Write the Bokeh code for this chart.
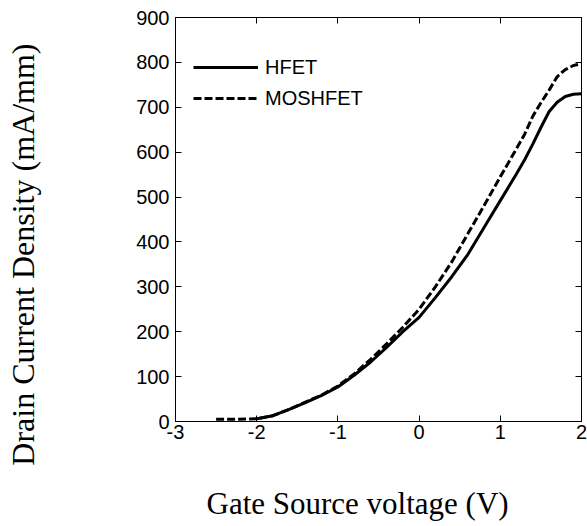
from bokeh.plotting import figure
from bokeh.models import LinearAxis, Legend, LegendItem, FixedTicker, Range1d, Title
from bokeh.embed import file_html
from bokeh.resources import INLINE

# Gate-source voltage (V)
vgs_hfet = [-2.0, -1.8, -1.6, -1.4, -1.2, -1.0, -0.8, -0.6, -0.4, -0.2,
            0.0, 0.2, 0.4, 0.6, 0.8, 1.0, 1.2, 1.3, 1.4, 1.5, 1.6, 1.7, 1.8, 1.9, 2.0]
vgs_moshfet = [-2.5, -2.25, -2.0, -1.8, -1.6, -1.4, -1.2, -1.0, -0.8, -0.6, -0.4, -0.2,
               0.0, 0.2, 0.4, 0.6, 0.8, 1.0, 1.2, 1.3, 1.4, 1.5, 1.6, 1.7, 1.8, 1.9, 2.0]
# Drain current density (mA/mm)
id_hfet = [6, 13, 27, 42, 58, 77, 103, 132, 165, 200,
           232, 276, 322, 372, 432, 492, 552, 583, 618, 655, 690, 711, 724, 729, 730]
id_moshfet = [5, 5, 6, 13, 27, 43, 59, 79, 106, 138, 173, 210,
              250, 300, 355, 418, 481, 545, 608, 640, 680, 710, 738, 768, 784, 793, 797]

x_ticks = [-3, -2, -1, 0, 1, 2]
y_ticks = [0, 100, 200, 300, 400, 500, 600, 700, 800, 900]
series_names = ["HFET", "MOSHFET"]
x_title = "Gate Source voltage (V)"
y_title = "Drain Current Density (mA/mm)"

SANS = "Liberation Sans"
SERIF = "Liberation Serif"

p = figure(width=587, height=526, x_range=Range1d(-3, 2), y_range=Range1d(0, 900),
           output_backend="svg", toolbar_location=None,
           min_border_left=175, min_border_right=6, min_border_top=17, min_border_bottom=105)
p.background_fill_color = "white"
p.border_fill_color = "white"
p.outline_line_color = "black"
p.outline_line_width = 1
p.xgrid.visible = False
p.ygrid.visible = False


def style_axis(ax, ticks, show_labels, standoff):
    ax.ticker = FixedTicker(ticks=ticks)
    ax.axis_line_color = "black"
    ax.major_tick_line_color = "black"
    ax.major_tick_in = 6
    ax.major_tick_out = 0
    ax.minor_tick_line_color = None
    ax.major_label_standoff = standoff
    if show_labels:
        ax.major_label_text_font = SANS
        ax.major_label_text_font_size = "20px"
        ax.major_label_text_color = "black"
        ax.major_label_overrides = {t: str(t) for t in ticks}
    else:
        ax.major_label_text_font_size = "0px"
        ax.major_label_text_color = None


style_axis(p.xaxis[0], x_ticks, True, 3)
style_axis(p.yaxis[0], y_ticks, True, 6)

# invisible spacer labels that push the titles outward
for ax, gap in ((p.xaxis[0], 38), (p.yaxis[0], 89)):
    ax.axis_label = "\u00a0"
    ax.axis_label_text_font_size = "1px"
    ax.axis_label_standoff = gap

top_ax = LinearAxis()
style_axis(top_ax, x_ticks, False, 0)
p.add_layout(top_ax, "above")
right_ax = LinearAxis()
style_axis(right_ax, y_ticks, False, 0)
p.add_layout(right_ax, "right")

r2 = p.line(vgs_moshfet, id_moshfet, line_color="black", line_width=3, line_dash="8 3")
r1 = p.line(vgs_hfet, id_hfet, line_color="black", line_width=3)

legend = Legend(items=[LegendItem(label=series_names[0], renderers=[r1]),
                       LegendItem(label=series_names[1], renderers=[r2])],
                location=(18, 311), margin=0, padding=0, spacing=7,
                glyph_width=65, glyph_height=24, label_height=24, label_standoff=7,
                label_text_font=SANS, label_text_font_size="20px", label_text_color="black",
                border_line_color=None, background_fill_alpha=0)
p.add_layout(legend, "center")

xt = Title(text=x_title, align="left", offset=31, standoff=0,
           text_font=SERIF, text_font_size="31px", text_font_style="normal", text_color="black")
p.add_layout(xt, "below")
yt = Title(text=y_title, align="right", offset=26, standoff=0,
           text_font=SERIF, text_font_size="32px", text_font_style="normal", text_color="black")
p.add_layout(yt, "left")

open("out.html", "w").write(file_html(p, INLINE))
